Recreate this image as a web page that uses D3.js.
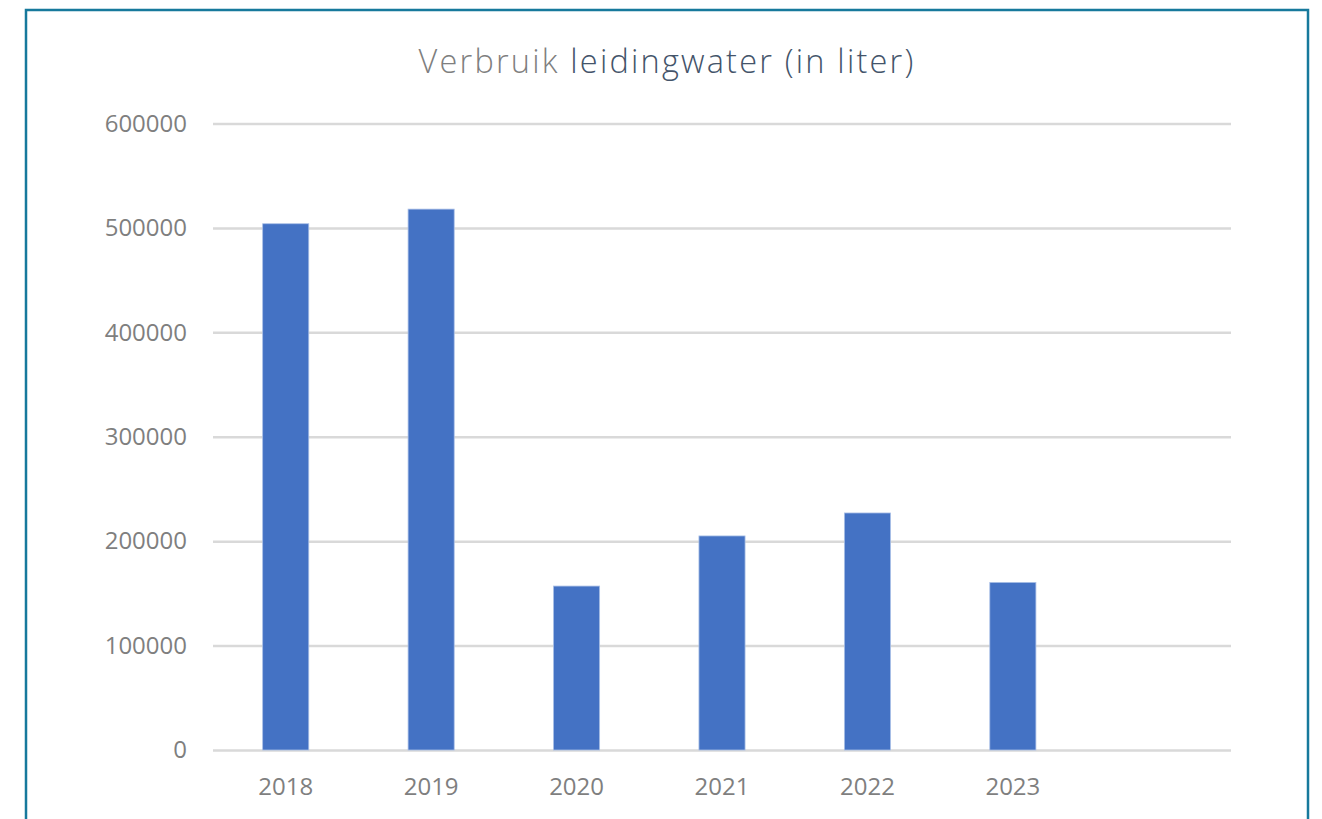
<!DOCTYPE html>
<html>
<head>
<meta charset="utf-8">
<script src="https://cdn.jsdelivr.net/npm/d3@7"></script>
<style>
  html, body { margin: 0; padding: 0; background: #fff; }
  svg { display: block; }
</style>
</head>
<body>
<script>
// data
const years = ["2018", "2019", "2020", "2021", "2022", "2023", ""];
const usage = [504000, 518000, 157000, 205000, 227000, 160500];
const yTicks = [0, 100000, 200000, 300000, 400000, 500000, 600000];
const titleParts = ["Verbruik ", "leidingwater (in liter)"];

const W = 1322, H = 819;
const plotLeft = 213, plotRight = 1231, plotTop = 123.5, plotBottom = 750;

const svg = d3.select("body").append("svg")
  .attr("width", W)
  .attr("height", H);

// frame
svg.append("rect")
  .attr("x", 26).attr("y", 10)
  .attr("width", 1282).attr("height", 900)
  .attr("fill", "none")
  .attr("stroke", "#17799c")
  .attr("stroke-width", 2.5);

// title
const title = svg.append("text")
  .attr("x", 667).attr("y", 73)
  .attr("text-anchor", "middle")
  .style("font-family", "'Open Sans', Lato, sans-serif")
  .style("font-weight", 300)
  .style("font-size", "32.5px")
  .style("letter-spacing", "2.2px");
title.append("tspan").attr("fill", "#7f7f7f").text(titleParts[0]);
title.append("tspan").attr("fill", "#44546a").text(titleParts[1]);

const x = d3.scaleBand()
  .domain(years)
  .range([plotLeft, plotRight])
  .paddingInner(0.683)
  .paddingOuter(0.3415);

const y = d3.scaleLinear()
  .domain([0, 600000])
  .range([plotBottom, plotTop]);

// gridlines + y labels
const yAxis = d3.axisLeft(y)
  .tickValues(yTicks)
  .tickSize(-(plotRight - plotLeft))
  .tickPadding(26)
  .tickFormat(d3.format("d"));

const gy = svg.append("g")
  .attr("transform", "translate(" + plotLeft + ",0)")
  .call(yAxis);
gy.select(".domain").remove();
gy.selectAll(".tick line")
  .attr("stroke", "#d9d9d9")
  .attr("stroke-width", 2.5);
gy.selectAll(".tick text")
  .attr("fill", "#7f7f7f")
  .style("font-family", "'Open Sans', 'Noto Sans', sans-serif")
  .style("font-size", "24px");

// bars
svg.append("g").selectAll("rect")
  .data(usage)
  .enter()
  .append("rect")
  .attr("x", (d, i) => x(years[i]))
  .attr("y", d => y(d))
  .attr("width", x.bandwidth())
  .attr("height", d => plotBottom - y(d))
  .attr("fill", "#4472c4")
  .attr("stroke", "#a9bfe6")
  .attr("stroke-width", 0.8);

// x labels
const xAxis = d3.axisBottom(x).tickSize(0).tickPadding(28);
const gx = svg.append("g")
  .attr("transform", "translate(0," + plotBottom + ")")
  .call(xAxis);
gx.select(".domain").remove();
gx.selectAll(".tick text")
  .attr("fill", "#7f7f7f")
  .style("font-family", "'Open Sans', 'Noto Sans', sans-serif")
  .style("font-size", "24px");
</script>
</body>
</html>
